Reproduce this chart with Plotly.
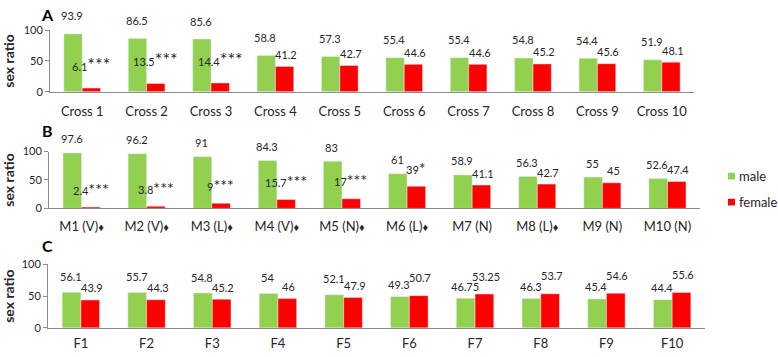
import plotly.graph_objects as go

# ---------------- data ----------------
cats_A = ["Cross 1", "Cross 2", "Cross 3", "Cross 4", "Cross 5",
          "Cross 6", "Cross 7", "Cross 8", "Cross 9", "Cross 10"]
male_A = [93.9, 86.5, 85.6, 58.8, 57.3, 55.4, 55.4, 54.8, 54.4, 51.9]
female_A = [6.1, 13.5, 14.4, 41.2, 42.7, 44.6, 44.6, 45.2, 45.6, 48.1]
sig_A = ["***", "***", "***", "", "", "", "", "", "", ""]

cats_B = ["M1 (V)♦", "M2 (V)♦", "M3 (L)♦", "M4 (V)♦", "M5 (N)♦",
          "M6 (L)♦", "M7 (N)", "M8 (L)♦", "M9 (N)", "M10 (N)"]
male_B = [97.6, 96.2, 91, 84.3, 83, 61, 58.9, 56.3, 55, 52.6]
female_B = [2.4, 3.8, 9, 15.7, 17, 39, 41.1, 42.7, 45, 47.4]
sig_B = ["***", "***", "***", "***", "***", "*", "", "", "", ""]

cats_C = ["F1", "F2", "F3", "F4", "F5", "F6", "F7", "F8", "F9", "F10"]
male_C = [56.1, 55.7, 54.8, 54, 52.1, 49.3, 46.75, 46.3, 45.4, 44.4]
female_C = [43.9, 44.3, 45.2, 46, 47.9, 50.7, 53.25, 53.7, 54.6, 55.6]
sig_C = [""] * 10

y_ticks = [0, 50, 100]
panel_letters = ["A", "B", "C"]

# ---------------- style ----------------
W, H = 778, 357
GREEN = "#92D050"
RED = "#FF0000"
AXIS = "#8C8C8C"
TXT = "#262626"
FONT = "Lato, 'Open Sans', sans-serif"


def fx(p):
    return p / W


def fy(p):
    return 1 - p / H


boxes = [(50, 694, 24, 88), (49, 700, 150, 209), (48, 705, 267, 333)]
xlab_standoff = [8, 6, 4]
hi_shift = [18, 14, 16]
lo_shift = [12, 12, 12]
star_size = [18, 16, 16]
sig_shift = [24, 19, 19]
letter_y = [8, 128, 247]

panels = [
    (cats_A, male_A, female_A, sig_A),
    (cats_B, male_B, female_B, sig_B),
    (cats_C, male_C, female_C, sig_C),
]

fig = go.Figure()
annotations = []

for i, (cats, male, female, sig) in enumerate(panels):
    n = "" if i == 0 else str(i + 1)
    xa, ya = "x" + n, "y" + n
    fig.add_trace(go.Bar(x=cats, y=male, name="male", marker_color=GREEN,
                         xaxis=xa, yaxis=ya, showlegend=False))
    fig.add_trace(go.Bar(x=cats, y=female, name="female", marker_color=RED,
                         xaxis=xa, yaxis=ya, showlegend=False))

    x0, x1, yt, yb = boxes[i]
    ticktext = [c.replace("♦", "<span style='font-size:11px'>♦</span>") for c in cats]
    fig.update_layout(**{
        "xaxis" + n: dict(
            domain=[fx(x0), fx(x1)], anchor=ya, type="category",
            showline=True, linecolor=AXIS, linewidth=1, ticks="",
            tickmode="array", tickvals=cats, ticktext=ticktext,
            tickfont=dict(size=13, color=TXT, family=FONT),
            ticklabelstandoff=xlab_standoff[i], showgrid=False, zeroline=False,
        ),
        "yaxis" + n: dict(
            domain=[fy(yb), fy(yt)], anchor=xa, range=[0, 100],
            tickvals=y_ticks, showline=True, linecolor=AXIS, linewidth=1,
            ticks="outside", ticklen=4, tickcolor=AXIS,
            tickfont=dict(size=11, color=TXT, family=FONT),
            showgrid=False, zeroline=False,
            title=dict(text="<b>sex ratio</b>", standoff=6,
                       font=dict(size=14, color=TXT, family=FONT)),
        ),
    })

    for c, m, f, s in zip(cats, male, female, sig):
        male_hi = m >= f
        annotations.append(dict(
            x=c, y=m, xref=xa, yref=ya, text=str(m), showarrow=False,
            xshift=-10, yshift=hi_shift[i] if male_hi else lo_shift[i],
            font=dict(size=11, color=TXT, family=FONT)))
        if s:
            annotations.append(dict(
                x=c, y=f, xref=xa, yref=ya, showarrow=False,
                text=f"{f}<span style='font-size:{star_size[i]}px'>{s}</span>",
                xshift=9, yshift=sig_shift[i],
                font=dict(size=11, color=TXT, family=FONT)))
        else:
            annotations.append(dict(
                x=c, y=f, xref=xa, yref=ya, text=str(f), showarrow=False,
                xshift=11, yshift=lo_shift[i] if male_hi else hi_shift[i] + 2,
                font=dict(size=11, color=TXT, family=FONT)))

    annotations.append(dict(
        x=fx(47), y=fy(letter_y[i]), xref="paper", yref="paper",
        text=f"<b>{panel_letters[i]}</b>", showarrow=False,
        xanchor="center", yanchor="middle",
        font=dict(size=16, color="#000000", family=FONT)))

# legend (drawn manually to match the small square keys)
shapes = []
for (ytop, col, label) in [(172, GREEN, "male"), (199, RED, "female")]:
    shapes.append(dict(type="rect", xref="paper", yref="paper",
                       x0=fx(728), x1=fx(735), y0=fy(ytop + 7), y1=fy(ytop),
                       fillcolor=col, line=dict(width=0)))
    annotations.append(dict(x=fx(737), y=fy(ytop + 3.5), xref="paper", yref="paper",
                            text=label, showarrow=False, xanchor="left",
                            yanchor="middle",
                            font=dict(size=13, color=TXT, family=FONT)))

fig.update_layout(
    width=W, height=H, autosize=False,
    margin=dict(l=0, r=0, t=0, b=0),
    paper_bgcolor="white", plot_bgcolor="white",
    barmode="group", bargap=0.43, bargroupgap=0,
    annotations=annotations, shapes=shapes,
    font=dict(family=FONT, color=TXT),
    showlegend=False,
)

fig.write_html("out.html",
               config={"displayModeBar": False},
               post_script="document.body.style.margin='0';"
                           "document.body.style.padding='0';"
                           "document.body.style.overflow='hidden';")
